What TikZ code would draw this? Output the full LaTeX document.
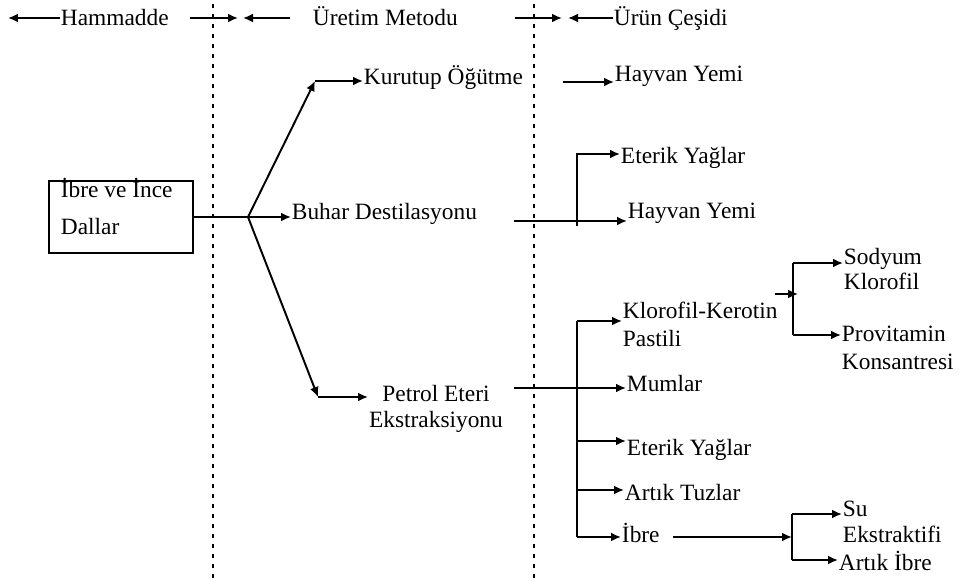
\documentclass[tikz,border=0pt]{standalone}
\usepackage{fontspec}
\setmainfont{Liberation Serif}
\usetikzlibrary{arrows.meta}

\begin{document}
\begin{tikzpicture}[x=0.02cm,y=-0.02cm,line width=1.1pt,
  every node/.style={font=\fontsize{13.3}{14.5}\selectfont,inner sep=0pt,anchor=base west,align=left},
  arr/.style={-{Latex[length=0.2cm,width=0.18cm]}},
  sepline/.style={line width=1.5pt,dash pattern=on 0.08cm off 0.12cm},
  box/.style={draw,anchor=center,minimum width=2.88cm,minimum height=1.44cm}]
  \useasboundingbox (0,0) rectangle (959,580);
  \path (60,26) node (ham) {Hammadde} (312,26) node (met) {Üretim Metodu} (613,26) node (cesit) {Ürün Çeşidi};
  \path (8,18) coordinate (h0) (190,18) coordinate (h1) (238,18) coordinate (h2) (290,18) coordinate (h3)
  (243,18) coordinate (h4) (515,18) coordinate (h5) (562,18) coordinate (h6) (568,18) coordinate (h7);
  \draw[sepline] (213,4) -- (213,580);
  \draw[sepline] (534,4) -- (534,580);
  \draw[arr] (h0 -| ham.west) -- (h0);
  \draw[arr] (h1) -- (h2);
  \draw[arr] (h3) -- (h4);
  \draw[arr] (h5) -- (h6);
  \draw[arr] (h7 -| cesit.west) -- (h7);
  \node[box] (ibre) at (121,217) {};
  \node (ibret) at (60,235) {İbre ve İnce\\[7pt]Dallar};
  \path (363,85) node (kur) {Kurutup Öğütme} (291,220) node (buh) {Buhar Destilasyonu}
  (436,427) node[anchor=base,align=center] (pet) {Petrol Eteri\\Ekstraksiyonu};
  \path (614,82) node (hay1) {Hayvan Yemi} (620,164) node (ete1) {Eterik Yağlar} (627,219) node (hay2) {Hayvan Yemi};
  \path (622,347) node (klo) {Klorofil-Kerotin\\[1.5pt]Pastili} (626,392) node (mum) {Mumlar}
  (626,455) node (ete2) {Eterik Yağlar} (624,500) node (tuz) {Artık Tuzlar} (621,542) node (ibre2) {İbre};
  \path (843,290) node (sod) {Sodyum\\Klorofil} (841,370) node (pro) {Provitamin\\[1.5pt]Konsantresi}
  (842,542) node (su) {Su\\Ekstraktifi} (838,570) node (art) {Artık İbre};
  \path (248,217) coordinate (f) (315,81) coordinate (k0) (318,397) coordinate (p0) (368,397) coordinate (p1)
  (563,82) coordinate (q0) (514,221) coordinate (b0) (577,154) coordinate (b1) (577,226) coordinate (b2)
  (514,388) coordinate (e0) (577,321) coordinate (v0) (577,441) coordinate (v2) (577,490) coordinate (v3) (577,537) coordinate (v1)
  (775,294) coordinate (s0) (793,263) coordinate (s1) (793,335) coordinate (s2)
  (673,537) coordinate (i0) (792,514) coordinate (i1) (792,560) coordinate (i2);
  \draw (ibre.east |- f) -- (f);
  \draw[arr] (f) -- (k0);
  \draw[arr] (k0) -- (k0 -| kur.west);
  \draw[arr] (f) -- (f -| buh.west);
  \draw[arr] (f) -- (p0);
  \draw[arr] (p0) -- (p1);
  \draw[arr] (q0) -- (q0 -| hay1.west);
  \draw[arr] (b0) -- (b0 -| hay2.west);
  \draw[arr] (b2) |- (b1 -| ete1.west);
  \draw[arr] (e0) -- (e0 -| mum.west);
  \draw (v0) -- (v1);
  \draw[arr] (v0) -- (v0 -| klo.west);
  \draw[arr] (v2) -- (v2 -| ete2.west);
  \draw[arr] (v3) -- (v3 -| tuz.west);
  \draw[arr] (v1) -- (v1 -| ibre2.west);
  \draw[arr] (s0) -- ++(23,0);
  \draw (s1) -- (s2);
  \draw[arr] (s1) -- (s1 -| sod.west);
  \draw[arr] (s2) -- (s2 -| pro.west);
  \draw[arr] (i0) -- (i0 -| i1);
  \draw (i1) -- (i2);
  \draw[arr] (i1) -- (i1 -| su.west);
  \draw[arr] (i2) -- (i2 -| art.west);
\end{tikzpicture}
\end{document}
